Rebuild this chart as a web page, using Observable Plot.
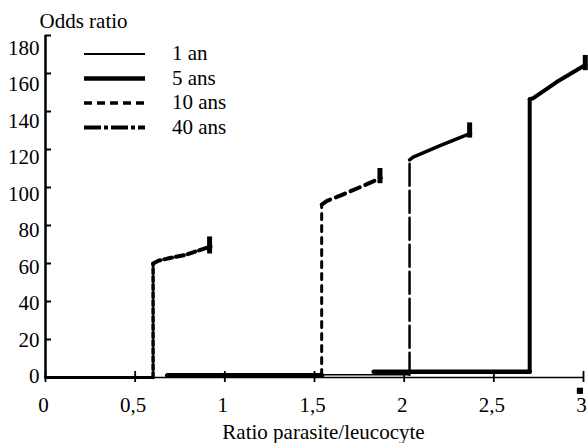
<!DOCTYPE html>
<html>
<head>
<meta charset="utf-8">
<script src="https://cdn.jsdelivr.net/npm/d3@7"></script>
<script src="https://cdn.jsdelivr.net/npm/@observablehq/plot@0.6"></script>
<style>
  body { margin: 0; background: #fff; font-family: 'Liberation Serif'; }
  #wrap { position: relative; width: 588px; height: 443px; font-family: 'Liberation Serif'; }
  #legend { position: absolute; left: 0; top: 0; }
</style>
</head>
<body>
<div id="wrap"><div id="chart"></div><svg id="legend" width="588" height="150"></svg></div>
<script>
// ---- data ----
const seriesNames = ["1 an", "5 ans", "10 ans", "40 ans"];
const xTicks = [0, 0.5, 1, 1.5, 2, 2.5, 3];
const yTicks = [0, 20, 40, 60, 80, 100, 120, 140, 160, 180];

// 10 ans (short dashes)
const base10 = [0, 0.60, 0];        // x start, x step, baseline y
const topX10 = [0.60, 0.63, 0.70, 0.78, 0.86, 0.92];
const topY10 = [60, 61.5, 63, 64.5, 67, 69];
const end10 = [0.915, 65, 74];

// 40 ans (medium dashes)
const base40 = [0.68, 1.54, 1];
const topX40 = [1.54, 1.57, 1.65, 1.75, 1.87];
const topY40 = [91, 93, 96, 100, 105];
const end40 = [1.865, 102, 110];

// 1 an (thin)
const base1 = [1.54, 2.03, 1.5];
const topX1 = [2.03, 2.05, 2.2, 2.37];
const topY1 = [114.5, 116, 122, 128.5];
const end1 = [2.365, 126, 134];

// 5 ans (thick)
const base5 = [1.83, 2.70, 3];
const topX5 = [2.70, 2.72, 2.85, 3.01];
const topY5 = [146.5, 147, 155.5, 164.5];
const end5 = [3.01, 161.5, 169.5];

const strayMark = [[2.98, -7]];

// ---- build tables ----
function build(base, tx, ty) {
  return {
    baseline: [{x: base[0], y: base[2]}, {x: base[1], y: base[2]}],
    rise: [{x: base[1], y: base[2]}, {x: tx[0], y: ty[0]}],
    top: tx.map((x, i) => ({x, y: ty[i]}))
  };
}
const s10 = build(base10, topX10, topY10);
const s40 = build(base40, topX40, topY40);
const s1 = build(base1, topX1, topY1);
const s5 = build(base5, topX5, topY5);
const ends = [end10, end40, end1, end5].map(e => ({x: e[0], y1: e[1], y2: e[2]}));

const fmt = d => String(d).replace(".", ",");
const font = "Liberation Serif";
// in the reference the y tick labels are spaced slightly tighter than the ticks
const labelPos = v => 0.53 + 0.9605 * v;

const chart = Plot.plot({
  width: 588,
  height: 443,
  marginLeft: 45,
  marginRight: 5,
  marginTop: 35,
  marginBottom: 66,
  style: {background: "white", color: "black", overflow: "visible"},
  x: {domain: [0, 3], label: null},
  y: {domain: [0, 180], label: null},
  marks: [
    // axes
    Plot.ruleX([0], {y1: 0, y2: 180, stroke: "black", strokeWidth: 2.5}),
    Plot.ruleY([0], {x1: 0, x2: 3, stroke: "black", strokeWidth: 1.5}),
    Plot.text(yTicks, {x: () => 0, y: labelPos, text: d => String(d), dx: -6, textAnchor: "end", lineAnchor: "middle", fontSize: 21, fontFamily: font, fill: "black"}),
    Plot.axisY(yTicks, {tickSize: 6, dx: 6, text: null, strokeWidth: 2, stroke: "black"}),
    Plot.axisX(xTicks, {tickSize: 0, tickPadding: 20, dx: -2, tickFormat: fmt, fontSize: 21, fontFamily: font, fill: "black"}),
    Plot.axisX(xTicks, {tickSize: 11, dy: -6, text: null, strokeWidth: 1.8, stroke: "black"}),
    Plot.text(["Odds ratio"], {frameAnchor: "top-left", dx: -6, dy: -8, textAnchor: "start", lineAnchor: "bottom", fontSize: 21, fontFamily: font, fill: "black"}),
    Plot.text(["Ratio parasite/leucocyte"], {frameAnchor: "bottom", dx: 9, dy: 55, lineAnchor: "middle", fontSize: 21, fontFamily: font, fill: "black"}),

    // 10 ans
    Plot.line(s10.baseline, {x: "x", y: "y", stroke: "black", strokeWidth: 3}),
    Plot.line(s10.rise, {x: "x", y: "y", stroke: "black", strokeWidth: 3.5, strokeDasharray: "5,3"}),
    Plot.line(s10.top, {x: "x", y: "y", stroke: "black", strokeWidth: 4, strokeDasharray: "8,4"}),
    // 40 ans
    Plot.line(s40.baseline, {x: "x", y: "y", stroke: "black", strokeWidth: 5}),
    Plot.line(s40.rise, {x: "x", y: "y", stroke: "black", strokeWidth: 3, strokeDasharray: "6,6"}),
    Plot.line(s40.top, {x: "x", y: "y", stroke: "black", strokeWidth: 4, strokeDasharray: "10,6"}),
    // 1 an
    Plot.line(s1.baseline, {x: "x", y: "y", stroke: "black", strokeWidth: 1.5}),
    Plot.line(s1.rise, {x: "x", y: "y", stroke: "black", strokeWidth: 2.5, strokeDasharray: "22,5"}),
    Plot.line(s1.top, {x: "x", y: "y", stroke: "black", strokeWidth: 3.5}),
    // 5 ans
    Plot.line(s5.baseline, {x: "x", y: "y", stroke: "black", strokeWidth: 4.5}),
    Plot.line(s5.rise, {x: "x", y: "y", stroke: "black", strokeWidth: 4}),
    Plot.line(s5.top, {x: "x", y: "y", stroke: "black", strokeWidth: 4}),
    // end markers
    Plot.ruleX(ends, {x: "x", y1: "y1", y2: "y2", stroke: "black", strokeWidth: 5}),
    Plot.dot(strayMark, {x: d => d[0], y: d => d[1], symbol: "square", r: 3.5, fill: "black"})
  ]
});
document.getElementById("chart").appendChild(chart);

// legend
const legendStyles = [
  {w: 2, dash: null},
  {w: 4.5, dash: null},
  {w: 3.5, dash: "8,5"},
  {w: 4, dash: "17,3,4,3"}
];
const lg = d3.select("#legend");
seriesNames.forEach((name, i) => {
  const y = 54 + i * 24.5;
  lg.append("line").attr("x1", 84).attr("x2", 145).attr("y1", y).attr("y2", y)
    .attr("stroke", "black").attr("stroke-width", legendStyles[i].w)
    .attr("stroke-dasharray", legendStyles[i].dash);
  lg.append("text").attr("x", 172).attr("y", y + 6).text(name)
    .attr("font-family", font).attr("font-size", 21).attr("fill", "black");
});
</script>
</body>
</html>
